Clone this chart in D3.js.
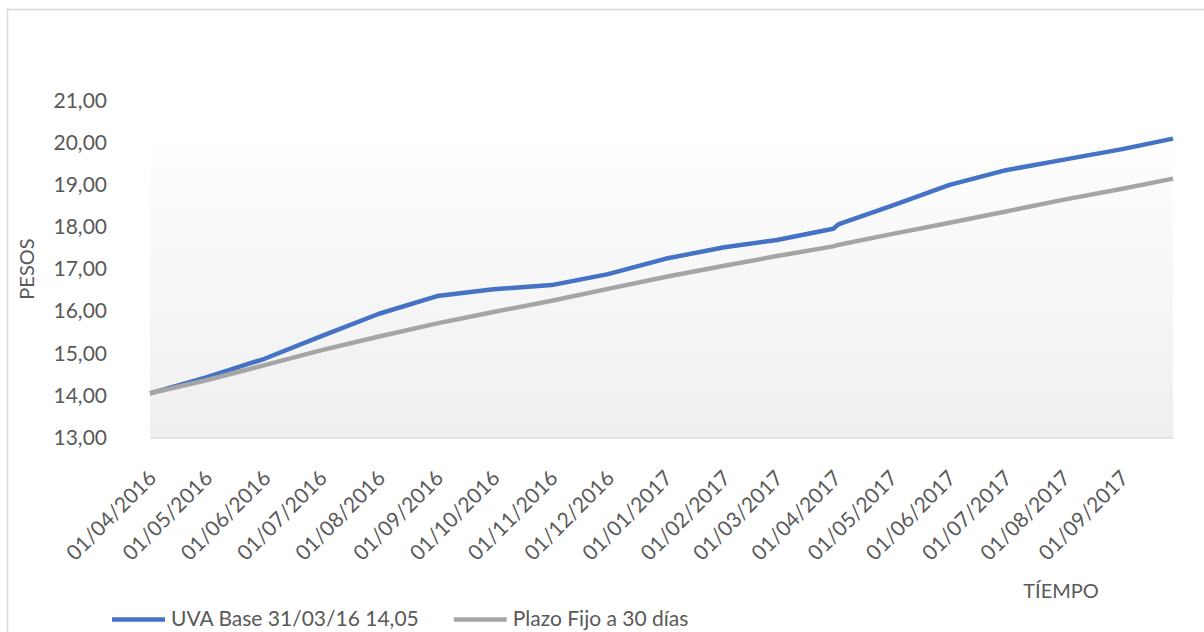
<!DOCTYPE html>
<html>
<head>
<meta charset="utf-8">
<script src="https://cdn.jsdelivr.net/npm/d3@7"></script>
<style>
  body { margin: 0; background: #fff; }
  text { font-family: Lato, "Open Sans", sans-serif; fill: #595959; }
</style>
</head>
<body>
<div id="chart"></div>
<script>
// dates of the readings (both series share them)
var fechas = ["2016-04-01", "2016-05-01", "2016-06-01", "2016-07-01", "2016-08-01",
  "2016-09-01", "2016-10-01", "2016-11-01", "2016-12-01", "2017-01-01", "2017-02-01",
  "2017-03-01", "2017-03-31", "2017-04-03", "2017-05-01", "2017-06-01", "2017-07-01",
  "2017-08-01", "2017-09-01", "2017-09-28"];
var uva = [14.05, 14.43, 14.87, 15.40, 15.94, 16.36, 16.52, 16.62, 16.88, 17.25, 17.52,
  17.69, 17.96, 18.07, 18.50, 19.00, 19.35, 19.60, 19.85, 20.10];
var plazoFijo = [14.05, 14.36, 14.72, 15.07, 15.40, 15.71, 15.98, 16.25, 16.53, 16.82, 17.08,
  17.31, 17.54, 17.58, 17.83, 18.10, 18.37, 18.65, 18.91, 19.15];
var yTicks = [13, 14, 15, 16, 17, 18, 19, 20, 21];
var seriesNames = ["UVA Base 31/03/16 14,05", "Plazo Fijo a 30 días"];
var seriesColors = ["#4472C4", "#A5A5A5"];

var width = 1204, height = 632;
var parse = d3.timeParse("%Y-%m-%d");
var dates = fechas.map(parse);
var esES = d3.formatLocale({ decimal: ",", thousands: ".", grouping: [3], currency: ["$", ""] });

var svg = d3.select("#chart").append("svg")
    .attr("width", width)
    .attr("height", height);

// chart frame (cut off at right and bottom in the original)
svg.append("rect")
    .attr("x", 7.5).attr("y", 9.5)
    .attr("width", 1300).attr("height", 700)
    .attr("fill", "none")
    .attr("stroke", "#d9d9d9")
    .attr("stroke-width", 1.5);

var x = d3.scaleTime()
    .domain([dates[0], dates[dates.length - 1]])
    .range([150, 1173]);
var y = d3.scaleLinear()
    .domain([13, 21])
    .range([437.5, 100.7]);

// plot area gradient
var grad = svg.append("defs").append("linearGradient")
    .attr("id", "bg").attr("x1", 0).attr("y1", 0).attr("x2", 0).attr("y2", 1);
grad.append("stop").attr("offset", 0).attr("stop-color", "#fefefe");
grad.append("stop").attr("offset", 1).attr("stop-color", "#efefef");
svg.append("rect")
    .attr("x", x.range()[0])
    .attr("y", y(20))
    .attr("width", x.range()[1] - x.range()[0])
    .attr("height", y(13) - y(20))
    .attr("fill", "url(#bg)");

// y axis
var yAxis = svg.append("g")
    .attr("transform", "translate(150,0)")
    .call(d3.axisLeft(y).tickValues(yTicks).tickSize(0).tickPadding(43)
        .tickFormat(esES.format(".2f")));
yAxis.select(".domain").remove();
yAxis.selectAll("text").style("font-size", "21px").attr("fill", "#595959");

// x axis
var xAxis = svg.append("g")
    .attr("transform", "translate(0," + y(13) + ")")
    .call(d3.axisBottom(x).ticks(d3.timeMonth.every(1)).tickSize(0).tickSizeOuter(0)
        .tickFormat(d3.timeFormat("%d/%m/%Y")));
xAxis.select(".domain").attr("stroke", "#d9d9d9").attr("stroke-width", 1.5);
xAxis.selectAll("text")
    .attr("x", 0).attr("y", 0).attr("dy", 0)
    .attr("text-anchor", "end")
    .attr("transform", "translate(7,42) rotate(-45)")
    .style("font-size", "21px")
    .attr("fill", "#595959");

// axis titles
svg.append("text")
    .attr("transform", "translate(34,269) rotate(-90)")
    .attr("text-anchor", "middle")
    .style("font-size", "20px")
    .text("PESOS");
svg.append("text")
    .attr("x", 1061).attr("y", 598)
    .attr("text-anchor", "middle")
    .style("font-size", "20px")
    .text("TÍEMPO");

// lines
var line = d3.line()
    .x(function (d, i) { return x(dates[i]); })
    .y(function (d) { return y(d); });
[uva, plazoFijo].forEach(function (s, k) {
    svg.append("path")
        .datum(s)
        .attr("d", line)
        .attr("fill", "none")
        .attr("stroke", seriesColors[k])
        .attr("stroke-width", 4.5)
        .attr("stroke-linejoin", "round");
});

// legend
var lx = 112;
seriesNames.forEach(function (name, k) {
    var g = svg.append("g").attr("transform", "translate(" + lx + ",0)");
    g.append("line")
        .attr("x1", 0).attr("x2", 53)
        .attr("y1", 619.5).attr("y2", 619.5)
        .attr("stroke", seriesColors[k])
        .attr("stroke-width", 4.5);
    var t = g.append("text")
        .attr("x", 59).attr("y", 626)
        .style("font-size", "21px")
        .text(name);
    lx += 59 + t.node().getComputedTextLength() + 35;
});
</script>
</body>
</html>
